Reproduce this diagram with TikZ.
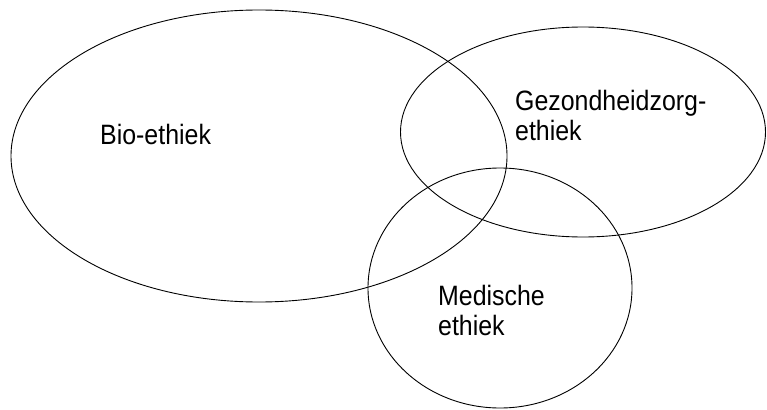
\documentclass[tikz,border=0pt]{standalone}
\usepackage{fontspec}
\setmainfont{Liberation Sans}
\usetikzlibrary{shapes.geometric}
\tikzset{
set/.style={draw, ellipse, line width=0.9pt, inner sep=0pt},
label/.style={anchor=base west, align=left, inner sep=0pt,
  font=\fontsize{28}{30}\selectfont, xscale=0.89}
}

\begin{document}
\begin{tikzpicture}[x=1pt, y=-1pt]
\useasboundingbox (0,0) rectangle (767,409);
  \node[set, minimum width=496pt, minimum height=292pt] (bio) at (259,156) {};
  \node[set, minimum width=365pt, minimum height=210pt] (zorg) at (583,132) {};
  \node[set, minimum width=264pt, minimum height=240pt] (med) at (500,288) {};
\node[label] (biotext) at (100,144) {Bio-ethiek};
\node[label] (zorgtext) at (515,140) {Gezondheidzorg-\\ethiek};
\node[label] (medtext) at (438,335) {Medische\\ethiek};
\end{tikzpicture}
\end{document}
